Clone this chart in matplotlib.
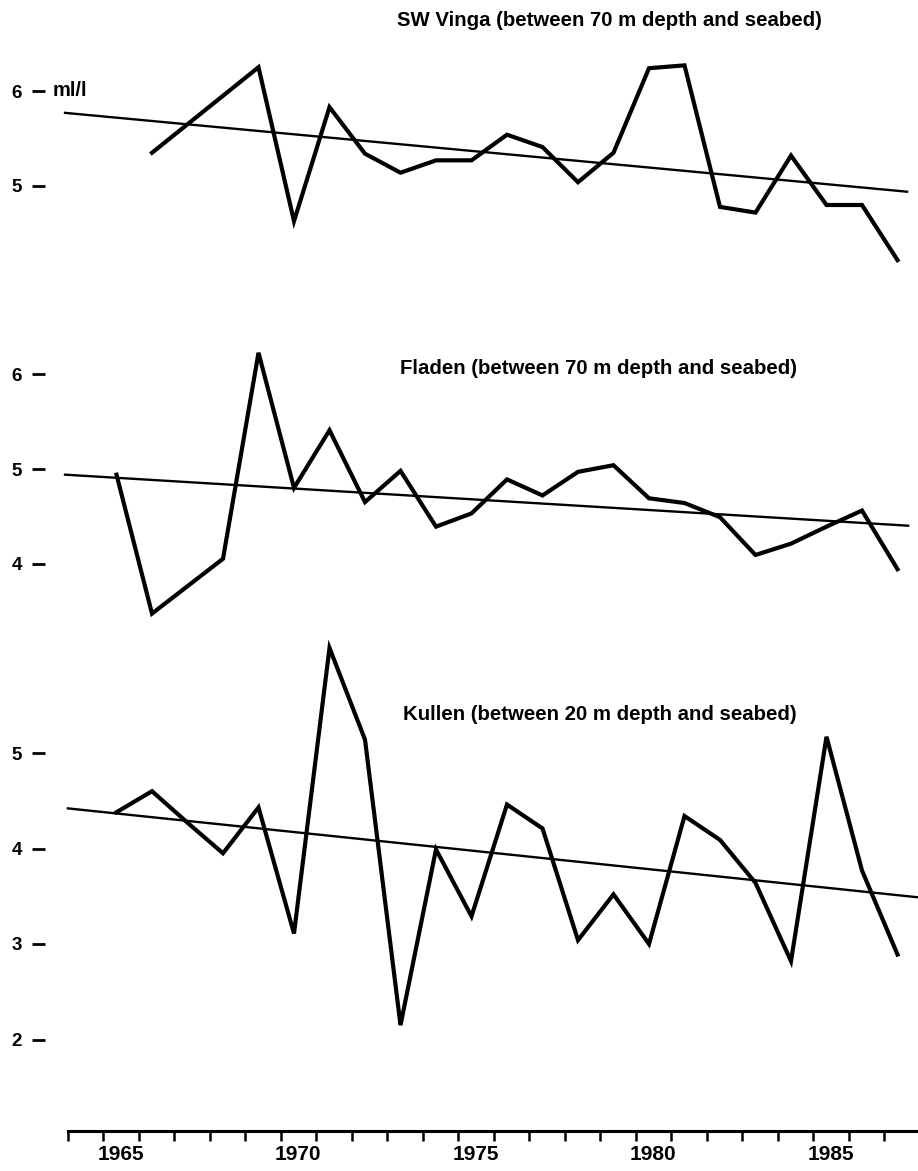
import matplotlib
matplotlib.use("Agg")
import matplotlib.pyplot as plt
import numpy as np

plt.rcParams['font.family'] = ['Liberation Sans', 'DejaVu Sans']

# ---------------- data ----------------
years_vinga = list(range(1966, 1988))
vinga = [5.35, 5.65, 5.95, 6.25, 4.63, 5.83, 5.34, 5.14, 5.27, 5.27, 5.54,
         5.41, 5.04, 5.35, 6.24, 6.27, 4.78, 4.72, 5.32, 4.80, 4.80, 4.22]
vinga_trend_x = [1963.55, 1987.27]
vinga_trend_y = [5.77, 4.94]

years_fladen = list(range(1965, 1988))
fladen = [4.94, 3.47, 3.76, 4.05, 6.23, 4.80, 5.41, 4.65, 4.98, 4.39, 4.53,
          4.89, 4.72, 4.97, 5.04, 4.69, 4.64, 4.49, 4.09, 4.21, 4.39, 4.56, 3.94]
fladen_trend_x = [1963.55, 1987.30]
fladen_trend_y = [4.94, 4.40]

years_kullen = list(range(1965, 1988))
kullen = [4.38, 4.60, 4.27, 3.95, 4.43, 3.11, 6.10, 5.14, 2.15, 3.99, 3.29,
          4.46, 4.21, 3.04, 3.52, 3.00, 4.34, 4.09, 3.64, 2.82, 5.17, 3.77, 2.89]
kullen_trend_x = [1963.63, 1987.55]
kullen_trend_y = [4.42, 3.49]

titles = ["SW Vinga (between 70 m depth and seabed)",
          "Fladen (between 70 m depth and seabed)",
          "Kullen (between 20 m depth and seabed)"]
yticks_vinga = [5, 6]
yticks_fladen = [4, 5, 6]
yticks_kullen = [2, 3, 4, 5]
xlabel_years = [1965, 1970, 1975, 1980, 1985]
unit_label = "ml/l"

# ---------------- layout ----------------
W, H = 918, 1171
fig = plt.figure(figsize=(W / 100, H / 100), dpi=100)
fig.patch.set_facecolor('white')

XL, XR = 45, 918
X0, STEP = 116.5, 35.5  # pixel of 1965, px per year


def px_to_year(px):
    return 1965 + (px - X0) / STEP


def make_axes(top, bottom, ref_val, ref_px, unit_px):
    ax = fig.add_axes([XL / W, 1 - bottom / H, (XR - XL) / W, (bottom - top) / H])
    ax.set_xlim(px_to_year(XL), px_to_year(XR))
    ymax = ref_val + (ref_px - top) / unit_px
    ymin = ref_val - (bottom - ref_px) / unit_px
    ax.set_ylim(ymin, ymax)
    ax.patch.set_alpha(0)
    for s in ax.spines.values():
        s.set_visible(False)
    ax.tick_params(axis='y', direction='out', length=9.5, width=2.0, pad=7,
                   labelsize=13.5, colors='black')
    ax.set_xticks([])
    return ax


data_lw = 3.0
trend_lw = 1.7

panels = [
    (0, 300, 6, 91, 95, years_vinga, vinga, vinga_trend_x, vinga_trend_y, yticks_vinga, 21, 397),
    (300, 640, 5, 469, 94.5, years_fladen, fladen, fladen_trend_x, fladen_trend_y, yticks_fladen, 368, 400),
    (640, 1131, 5, 753, 95.5, years_kullen, kullen, kullen_trend_x, kullen_trend_y, yticks_kullen, 715, 403),
]

axes = []
for i, (top, bottom, rv, rp, up, yrs, vals, tx, ty, yt, title_y, title_x) in enumerate(panels):
    ax = make_axes(top, bottom, rv, rp, up)
    ax.plot(yrs, vals, color='black', lw=data_lw, solid_joinstyle='miter', zorder=3)
    ax.plot(tx, ty, color='black', lw=trend_lw, zorder=2)
    ax.set_yticks(yt)
    ax.set_yticklabels([str(v) for v in yt], fontweight='bold', fontsize=13.5)
    fig.text(title_x / W, 1 - title_y / H, titles[i], fontsize=14.7, fontweight='bold',
             ha='left', va='center')
    axes.append(ax)

# unit label next to the top tick of the first panel
fig.text(53 / W, 1 - 91 / H, unit_label, fontsize=14.5, fontweight='bold',
         ha='left', va='center')

# bottom x axis on the last panel
axk = axes[-1]
axk.spines['bottom'].set_visible(True)
axk.spines['bottom'].set_linewidth(2.2)
axk.spines['bottom'].set_bounds(px_to_year(68), px_to_year(XR))
tick_pos = np.arange(1963.63, 1987.0, 1.0)
axk.set_xticks(tick_pos)
axk.set_xticklabels([])
axk.tick_params(axis='x', which='major', direction='out', length=7.5, width=1.8)
axk.set_xticks([y + 0.12 for y in xlabel_years], minor=True)
axk.set_xticklabels([str(y) for y in xlabel_years], minor=True,
                    fontsize=15, fontweight='bold')
axk.tick_params(axis='x', which='minor', length=0, pad=10)

fig.savefig('out.png', dpi=100, facecolor='white')
